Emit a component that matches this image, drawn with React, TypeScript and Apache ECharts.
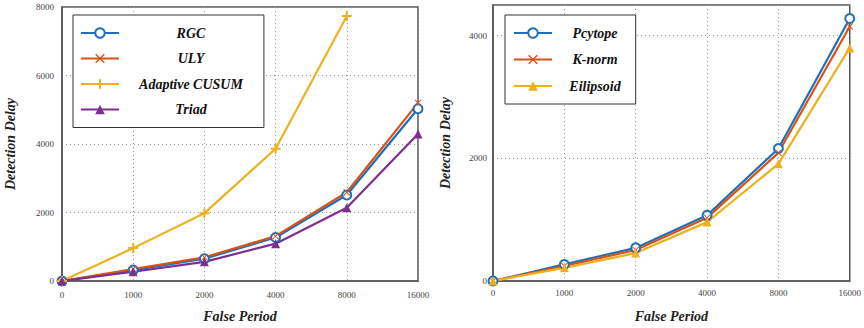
import React, { useEffect, useRef } from "react";
import * as echarts from "echarts";

const falsePeriods = ["0", "1000", "2000", "4000", "8000", "16000"];

const rgc = [0, 320, 650, 1270, 2510, 5030];
const uly = [0, 350, 690, 1310, 2590, 5200];
const adaptiveCusum = [0, 960, 1980, 3860, 7740];
const triad = [0, 270, 560, 1090, 2140, 4290];

const pcytope = [0, 270, 540, 1070, 2160, 4280];
const kNorm = [0, 245, 505, 1030, 2090, 4150];
const eilipsoid = [0, 215, 455, 960, 1910, 3800];

const FONT = "Times New Roman, Liberation Serif, Times, serif";
const BLUE = "#1f6fba";
const ORANGE = "#d95319";
const YELLOW = "#edb120";
const PURPLE = "#7e2f8e";

const X_PATH = "path://M1,0 L5,4 L9,0 L10,1 L6,5 L10,9 L9,10 L5,6 L1,10 L0,9 L4,5 L0,1 Z";
const PLUS_PATH = "path://M4,0 H6 V4 H10 V6 H6 V10 H4 V6 H0 V4 H4 Z";

function makeAxes(gridIndex: number, max: number, ylabelMargin: number, nameGap: number, xMargin: number) {
  const x = {
    type: "category",
    gridIndex,
    data: falsePeriods,
    boundaryGap: false,
    name: "False Period",
    nameLocation: "middle",
    nameGap: 28,
    nameTextStyle: { fontFamily: FONT, fontSize: 14, fontWeight: "bold", fontStyle: "italic", color: "#222" },
    axisLine: { show: true, lineStyle: { color: "#555", width: 1.5 } },
    axisTick: { show: false },
    axisLabel: { fontFamily: FONT, fontSize: 9, color: "#444", margin: xMargin },
    splitLine: { show: true, lineStyle: { type: [1, 3], color: "#999", width: 1 } },
  };
  const y = {
    type: "value",
    gridIndex,
    min: 0,
    max,
    interval: 2000,
    name: "Detection Delay",
    nameLocation: "middle",
    nameGap,
    nameTextStyle: { fontFamily: FONT, fontSize: 14, fontWeight: "bold", fontStyle: "italic", color: "#222" },
    axisLine: { show: true, lineStyle: { color: "#555", width: 1.5 } },
    axisTick: { show: false },
    axisLabel: {
      fontFamily: FONT,
      fontSize: 9,
      color: "#444",
      margin: ylabelMargin,
      formatter: (v: number) => (v % 2000 === 0 ? String(v) : ""),
    },
    splitLine: { show: true, lineStyle: { type: [1, 3], color: "#999", width: 1 } },
  };
  return { x, y };
}

function line(name: string, data: number[], color: string, symbol: string, idx: number, size = 8) {
  return {
    name,
    type: "line",
    xAxisIndex: idx,
    yAxisIndex: idx,
    data,
    symbol,
    symbolSize: size,
    showSymbol: true,
    lineStyle: { color, width: 2.2 },
    itemStyle: { color, borderColor: color, borderWidth: symbol === "emptyCircle" ? 2 : 0 },
  };
}

export default function App() {
  const ref = useRef<HTMLDivElement>(null);
  useEffect(() => {
    if (!ref.current) return;
    const chart = echarts.init(ref.current, null, { renderer: "svg" });
    const a0 = makeAxes(0, 8000, 8, 45, 9);
    const a1 = makeAxes(1, 4500, 6, 41, 7);
    const legendText = (w: number) => ({
      fontFamily: FONT,
      fontSize: 14,
      fontWeight: "bold",
      fontStyle: "italic",
      color: "#111",
      rich: { a: { width: w, align: "center", fontFamily: FONT, fontSize: 14, fontWeight: "bold", fontStyle: "italic", color: "#111" } },
    });
    chart.setOption({
      animation: false,
      backgroundColor: "#fff",
      textStyle: { fontFamily: FONT },
      grid: [
        { left: 62, top: 7, width: 356, height: 280, show: true, borderColor: "#555", borderWidth: 1.5, backgroundColor: "transparent" },
        { left: 493, top: 5, width: 362, height: 285, show: true, borderColor: "#555", borderWidth: 1.5, backgroundColor: "transparent" },
      ],
      xAxis: [a0.x, a1.x],
      yAxis: [a0.y, a1.y],
      legend: [
        {
          orient: "vertical",
          left: 73,
          top: 15,
          data: ["RGC", "ULY", "Adaptive CUSUM", "Triad"],
          itemWidth: 38,
          itemHeight: 12,
          itemGap: 11.5,
          itemTextGap: 5,
          padding: [11, 21, 11, 7],
          borderColor: "#333",
          borderWidth: 1,
          backgroundColor: "#fff",
          formatter: (n: string) => `{a|${n}}`,
          textStyle: legendText(134),
        },
        {
          orient: "vertical",
          left: 505,
          top: 15,
          data: ["Pcytope", "K-norm", "Eilipsoid"],
          itemWidth: 38,
          itemHeight: 12,
          itemGap: 12.5,
          itemTextGap: 5,
          padding: [11, 15, 11, 8],
          borderColor: "#333",
          borderWidth: 1,
          backgroundColor: "#fff",
          formatter: (n: string) => `{a|${n}}`,
          textStyle: legendText(76),
        },
      ],
      series: [
        line("RGC", rgc, BLUE, "emptyCircle", 0, 9),
        line("ULY", uly, ORANGE, X_PATH, 0, 7),
        line("Adaptive CUSUM", adaptiveCusum, YELLOW, PLUS_PATH, 0, 10),
        line("Triad", triad, PURPLE, "triangle", 0, 9),
        line("Pcytope", pcytope, BLUE, "emptyCircle", 1, 9),
        line("K-norm", kNorm, ORANGE, X_PATH, 1, 7),
        line("Eilipsoid", eilipsoid, YELLOW, "triangle", 1, 9),
      ],
    });
    return () => chart.dispose();
  }, []);
  return (
    <div
      ref={ref}
      style={{ position: "absolute", left: 0, top: 0, width: 864, height: 328, background: "#fff" }}
    />
  );
}
